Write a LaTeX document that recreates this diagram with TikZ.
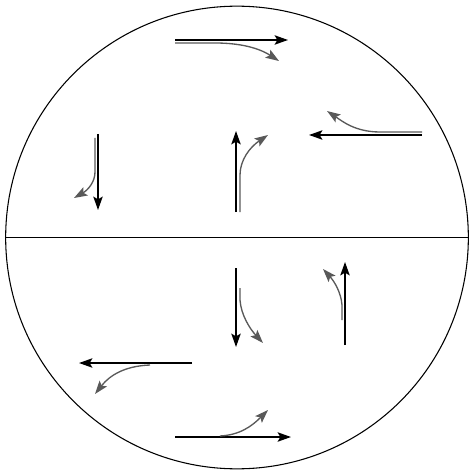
\documentclass[tikz,border=0pt]{standalone}
\usepackage{tikz}
\usetikzlibrary{arrows.meta}

\begin{document}
\begin{tikzpicture}[x=0.75pt, y=-0.75pt,
  mainflow/.style={-{Stealth[length=10pt,width=7pt,inset=2pt]}, line width=1.3pt, black},
  turnflow/.style={-{Stealth[length=10pt,width=7pt,inset=2pt]}, line width=1pt, black!65}
]
\useasboundingbox (0,0) rectangle (469,470);

\node[circle, draw, line width=0.8pt, minimum size=347pt, inner sep=0pt] (disc) at (237,237.5) {};
\draw[line width=1pt] (disc.west) -- (disc.east);

% upper half
\coordinate (n1a) at (175,40);  \coordinate (n1b) at (288,40);
\coordinate (n1c) at (175,43);  \coordinate (n1d) at (215,43);  \coordinate (n1e) at (279,61);
\draw[mainflow] (n1a) -- (n1b);
\draw[turnflow] (n1c) -- (n1d) .. controls (245,43) and (262,50) .. (n1e);

\coordinate (e1a) at (422,135); \coordinate (e1b) at (309,135);
\coordinate (e1c) at (422,132); \coordinate (e1d) at (380,132); \coordinate (e1e) at (327,111);
\draw[mainflow] (e1a) -- (e1b);
\draw[turnflow] (e1c) -- (e1d) .. controls (355,132) and (342,121) .. (e1e);

\coordinate (w1a) at (98,134);  \coordinate (w1b) at (98,210);
\coordinate (w1c) at (95,138);  \coordinate (w1d) at (95,172);  \coordinate (w1e) at (74,198);
\draw[mainflow] (w1a) -- (w1b);
\draw[turnflow] (w1c) -- (w1d) .. controls (95,182) and (88,190) .. (w1e);

\coordinate (s1a) at (236,212); \coordinate (s1b) at (236,131);
\coordinate (s1c) at (240,212); \coordinate (s1d) at (240,175); \coordinate (s1e) at (268,135);
\draw[mainflow] (s1a) -- (s1b);
\draw[turnflow] (s1c) -- (s1d) .. controls (240,160) and (250,147) .. (s1e);

% lower half
\coordinate (s2a) at (236,268); \coordinate (s2b) at (236,347);
\coordinate (s2c) at (240,288); \coordinate (s2d) at (240,300); \coordinate (s2e) at (263,343);
\draw[mainflow] (s2a) -- (s2b);
\draw[turnflow] (s2c) -- (s2d) .. controls (241,315) and (250,329) .. (s2e);

\coordinate (e2a) at (345,345); \coordinate (e2b) at (345,262);
\coordinate (e2c) at (342,320); \coordinate (e2d) at (342,305); \coordinate (e2e) at (323,269);
\draw[mainflow] (e2a) -- (e2b);
\draw[turnflow] (e2c) -- (e2d) .. controls (341,292) and (334,281) .. (e2e);

\coordinate (w2a) at (192,363); \coordinate (w2b) at (79,363);
\coordinate (w2c) at (150,365); \coordinate (w2e) at (95,394);
\draw[mainflow] (w2a) -- (w2b);
\draw[turnflow] (w2c) .. controls (125,366) and (110,375) .. (w2e);

\coordinate (n2a) at (175,437); \coordinate (n2b) at (291,437);
\coordinate (n2c) at (220,436); \coordinate (n2e) at (268,410);
\draw[mainflow] (n2a) -- (n2b);
\draw[turnflow] (n2c) .. controls (240,435) and (252,426) .. (n2e);
\end{tikzpicture}
\end{document}
